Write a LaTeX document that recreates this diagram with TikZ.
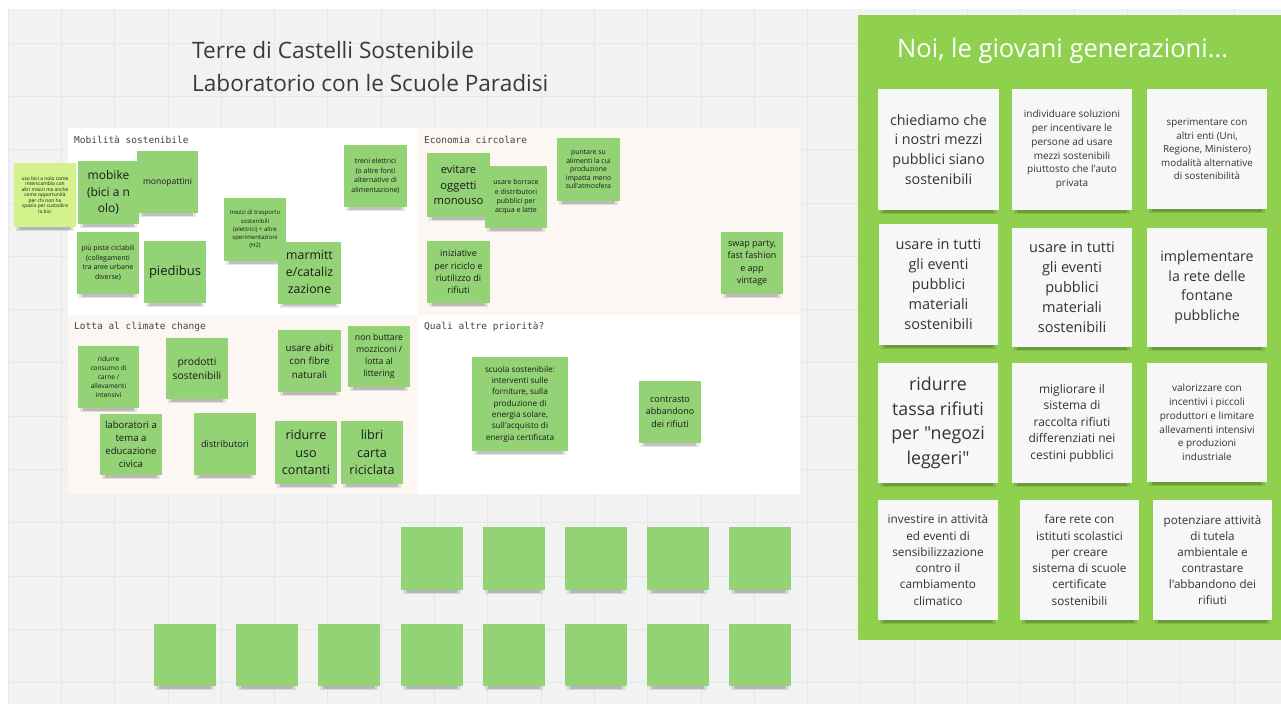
\documentclass[tikz,border=0pt]{standalone}
\usepackage{fontspec}
\setmainfont{Open Sans}
\newfontfamily\osf{Open Sans}
\newfontfamily\monof{DejaVu Sans Mono}
\definecolor{canvas}{HTML}{F2F2F2}
\definecolor{gridc}{HTML}{E7E7E7}
\definecolor{pinkp}{HTML}{FDF7F4}
\definecolor{frameg}{HTML}{8FD14F}
\definecolor{stickyg}{HTML}{93D275}
\definecolor{stickyl}{HTML}{D2F28C}
\definecolor{stickyw}{HTML}{F7F7F7}
\definecolor{ink}{HTML}{1A1A1A}
\definecolor{inkw}{HTML}{333333}
\definecolor{titlec}{HTML}{3A3A3A}
\definecolor{labelc}{HTML}{444444}
\newcommand\fsz[1]{\osf\fontsize{#1pt}{\dimexpr#1pt*138/100\relax}\selectfont}
\newcommand\fszb[2]{\osf\fontsize{#1pt}{#2pt}\selectfont}
\pgfdeclarelayer{bgl}
\pgfdeclarelayer{shl}
\pgfsetlayers{bgl,shl,main}
\tikzset{
  gnote/.style={fill=stickyg, text=ink, minimum width=62, minimum height=62, inner sep=0pt, align=center},
  lnote/.style={gnote, fill=stickyl},
  wnote/.style={fill=stickyw, text=inkw, minimum width=120, minimum height=121, inner sep=0pt, align=center},
  panel/.style={inner sep=0pt, draw=none},
  seclabel/.style={anchor=base west, inner sep=0pt, text=labelc, font=\monof\fontsize{9.5pt}{11pt}\selectfont},
  shadowa/.style={fill=black, opacity=0.10},
  shadowb/.style={fill=black, opacity=0.16}
}
\begin{document}
\begin{tikzpicture}[x=1pt, y=-1pt]
\useasboundingbox (0,0) rectangle (1281,704);
\begin{pgfonlayer}{bgl}
  \fill[white] (0,0) rectangle (1281,704);
  \fill[canvas] (8,9) rectangle (1281,704);
  \foreach \x in {8,61.3,...,1281} \draw[gridc, line width=0.8pt] (\x,9) -- (\x,704);
  \foreach \y in {43,96.3,...,704} \draw[gridc, line width=0.8pt] (8,\y) -- (1281,\y);
  % board quadrants
  \node[panel, fill=white, minimum width=350, minimum height=187] (pmob) at (243,221.5) {};
  \node[panel, fill=pinkp, minimum width=382, minimum height=187] (peco) at (609,221.5) {};
  \node[panel, fill=pinkp, minimum width=350, minimum height=179] (plot) at (243,404.5) {};
  \node[panel, fill=white, minimum width=382, minimum height=179] (pqua) at (609,404.5) {};
  % green frame
  \node[panel, fill=frameg, minimum width=423, minimum height=625] (frame) at (1069.5,327.5) {};
\end{pgfonlayer}

% titles
\node[anchor=base west, inner sep=0pt, text=titlec, font=\fszb{22.6}{27}] (t1) at (192,58) {Terre di Castelli Sostenibile};
\node[anchor=base west, inner sep=0pt, text=titlec, font=\fszb{22.6}{27}] (t2) at (192,91) {Laboratorio con le Scuole Paradisi};
\node[anchor=base west, inner sep=0pt, text=white, font=\fszb{25.5}{30}] (t3) at (897,57) {Noi, le giovani generazioni...};

% section labels
\node[seclabel] (lmob) at (74,143) {Mobilità sostenibile};
\node[seclabel] (leco) at (424,143) {Economia circolare};
\node[seclabel] (llot) at (74,329) {Lotta al climate change};
\node[seclabel] (lqua) at (424,329) {Quali altre priorità?};

% Mobilita sostenibile
\node[lnote, minimum height=64, font=\fszb{4.9}{5.5}] (lime) at (45,195) {uso bici a nolo come\\interscambio con\\altri mezzi ma anche\\come opportunità\\per chi non ha\\spazio per custodire\\la bici};
\node[gnote, minimum width=61, minimum height=63, font=\fsz{12}] (mobike) at (108.5,192.5) {mobike\\(bici a n\\olo)};
\node[gnote, minimum width=61, font=\fsz{8.5}] (monop) at (167.5,182) {monopattini};
\node[gnote, minimum width=63, font=\fsz{7}] (treni) at (375.5,176) {treni elettrici\\(o altre fonti\\alternative di\\alimentazione)};
\node[gnote, minimum height=63, font=\fszb{6}{8.2}] (mezzi) at (255,229.5) {mezzi di trasporto\\sostenibili\\(elettrici) + altre\\sperimentazioni\\(H2)};
\node[gnote, font=\fsz{7}] (piste) at (108,263) {più piste ciclabili\\(collegamenti\\tra aree urbane\\diverse)};
\node[gnote, font=\fsz{13}] (piedibus) at (175,272) {piedibus};
\node[gnote, minimum width=63, font=\fsz{12.3}] (marmitte) at (309.5,272.5) {marmitt\\e/cataliz\\zazione};

% Economia circolare
\node[gnote, minimum width=63, minimum height=64, font=\fsz{11.2}] (evitare) at (458.5,185) {evitare\\oggetti\\monouso};
\node[gnote, font=\fszb{7}{9.4}] (borrace) at (516,197) {usare borrace\\e distributori\\pubblici per\\acqua e latte};
\node[gnote, minimum width=63, minimum height=63, font=\fszb{6.9}{8.6}] (puntare) at (588.5,169.5) {puntare su\\alimenti la cui\\produzione\\impatta meno\\sull'atmosfera};
\node[gnote, minimum width=63, font=\fsz{9}] (iniziative) at (458.5,272) {iniziative\\per riciclo e\\riutilizzo di\\rifiuti};
\node[gnote, font=\fsz{9}] (swap) at (752,263) {swap party,\\fast fashion\\e app\\vintage};

% Lotta al climate change
\node[gnote, minimum width=61, font=\fsz{6.6}] (carne) at (108.5,377) {ridurre\\consumo di\\carne /\\allevamenti\\intensivi};
\node[gnote, minimum height=61, font=\fsz{10.3}] (prodotti) at (197,368.5) {prodotti\\sostenibili};
\node[gnote, minimum width=63, font=\fsz{9.8}] (abiti) at (309.5,361) {usare abiti\\con fibre\\naturali};
\node[gnote, minimum height=61, font=\fsz{8.7}] (mozz) at (379,356.5) {non buttare\\mozziconi /\\lotta al\\littering};
\node[gnote, minimum height=61, font=\fsz{9.6}] (labor) at (131,444.5) {laboratori a\\tema a\\educazione\\civica};
\node[gnote, font=\fsz{9.2}] (distr) at (225,444) {distributori};
\node[gnote, minimum height=63, font=\fsz{12.6}] (contanti) at (306,452.5) {ridurre\\uso\\contanti};
\node[gnote, minimum height=63, font=\fsz{12.6}] (libri) at (372,452.5) {libri\\carta\\riciclata};

% Quali altre priorita
\node[gnote, minimum width=96, minimum height=94, font=\fsz{8.2}] (scuola) at (520,404) {scuola sostenibile:\\interventi sulle\\forniture, sulla\\produzione di\\energia solare,\\sull'acquisto di\\energia certificata};
\node[gnote, font=\fsz{9}] (contrasto) at (670,412) {contrasto\\abbandono\\dei rifiuti};

% empty notes
\foreach \i/\x in {1/432,2/514,3/596,4/678,5/760}
  \node[gnote, minimum height=63] (ea\i) at (\x,558.5) {};
\foreach \i/\x in {1/185,2/267,3/349,4/432,5/514,6/596,7/678,8/760}
  \node[gnote, minimum height=62] (eb\i) at (\x,655) {};

% white notes
\node[wnote, minimum width=121, font=\fsz{14.3}] (w1) at (938.5,149.5) {chiediamo che\\i nostri mezzi\\pubblici siano\\sostenibili};
\node[wnote, font=\fsz{10}] (w2) at (1072,149.5) {individuare soluzioni\\per incentivare le\\persone ad usare\\mezzi sostenibili\\piuttosto che l'auto\\privata};
\node[wnote, minimum height=120, font=\fsz{9.8}] (w3) at (1207,149) {sperimentare con\\altri enti (Uni,\\Regione, Ministero)\\modalità alternative\\di sostenibilità};
\node[wnote, minimum width=119, font=\fsz{14.5}] (w4) at (938.5,284.5) {usare in tutti\\gli eventi\\pubblici\\materiali\\sostenibili};
\node[wnote, minimum height=119, font=\fsz{14.5}] (w5) at (1072,287.5) {usare in tutti\\gli eventi\\pubblici\\materiali\\sostenibili};
\node[wnote, minimum height=119, font=\fsz{14.2}] (w6) at (1207,287.5) {implementare\\la rete delle\\fontane\\pubbliche};
\node[wnote, minimum height=120, font=\fsz{17.8}] (w7) at (938,423) {ridurre\\tassa rifiuti\\per "negozi\\leggeri"};
\node[wnote, minimum height=120, font=\fsz{12}] (w8) at (1072,423) {migliorare il\\sistema di\\raccolta rifiuti\\differenziati nei\\cestini pubblici};
\node[wnote, minimum height=119, font=\fsz{10}] (w9) at (1207,422.5) {valorizzare con\\incentivi i piccoli\\produttori e limitare\\allevamenti intensivi\\e produzioni\\industriale};
\node[wnote, minimum height=120, font=\fsz{11.8}] (w10) at (938,560) {investire in attività\\ed eventi di\\sensibilizzazione\\contro il\\cambiamento\\climatico};
\node[wnote, minimum width=119, minimum height=120, font=\fsz{11.8}] (w11) at (1079.5,560) {fare rete con\\istituti scolastici\\per creare\\sistema di scuole\\certificate\\sostenibili};
\node[wnote, minimum width=119, minimum height=120, font=\fsz{11.6}] (w12) at (1212.5,560) {potenziare attività\\di tutela\\ambientale e\\contrastare\\l'abbandono dei\\rifiuti};

% shadows
\begin{pgfonlayer}{shl}
\foreach \n in {lime,mobike,monop,treni,mezzi,piste,piedibus,marmitte,evitare,borrace,puntare,iniziative,swap,carne,prodotti,abiti,mozz,labor,distr,contanti,libri,scuola,contrasto,ea1,ea2,ea3,ea4,ea5,eb1,eb2,eb3,eb4,eb5,eb6,eb7,eb8,w1,w2,w3,w4,w5,w6,w7,w8,w9,w10,w11,w12}{
  \fill[shadowa] ([xshift=2pt]\n.south west) rectangle ([xshift=-2pt,yshift=-4pt]\n.south east);
  \fill[shadowb] ([xshift=5pt]\n.south west) rectangle ([xshift=-5pt,yshift=-2.5pt]\n.south east);
}
\end{pgfonlayer}
\end{tikzpicture}
\end{document}
